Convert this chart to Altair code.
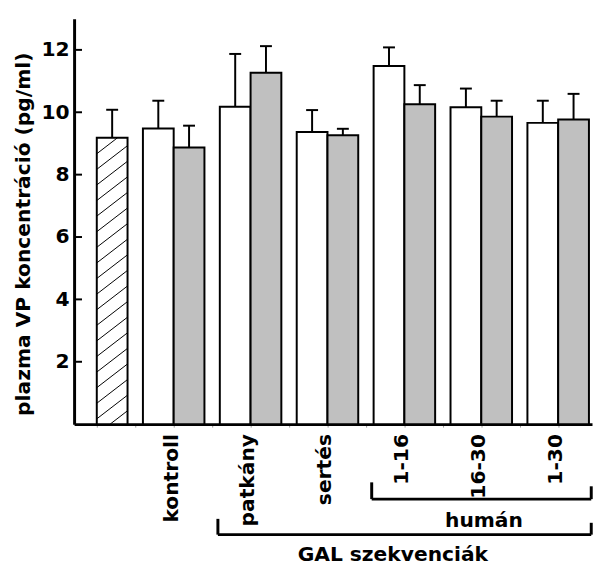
import altair as alt
import pandas as pd
import numpy as np

# ---- data ----
groups = ["kontroll", "patkány", "sertés", "1-16", "16-30", "1-30"]
white_vals = [9.48, 10.18, 9.37, 11.48, 10.16, 9.66]
white_err = [0.89, 1.69, 0.70, 0.60, 0.60, 0.71]
grey_vals = [8.87, 11.27, 9.26, 10.26, 9.86, 9.77]
grey_err = [0.70, 0.85, 0.21, 0.61, 0.51, 0.82]
base_val = 9.18
base_err = 0.90
y_ticks = [2, 4, 6, 8, 10, 12]
brackets = [("humán", 3, 5), ("GAL szekvenciák", 1, 5)]  # label, first group idx, last group idx

FONT = "DejaVu Sans"
FS = 20.5
BW = 0.8  # bar width in x units
W, H = 525, 411
TOTAL_H = 562

# ---- tables ----
centers = [2.0 * (i + 1) for i in range(len(groups))]
rows = [dict(x0=0.0, x1=BW, val=base_val, err=base_val + base_err, fill="white")]
for c, wv, we, gv, ge in zip(centers, white_vals, white_err, grey_vals, grey_err):
    rows.append(dict(x0=c - BW, x1=c, val=wv, err=wv + we, fill="white"))
    rows.append(dict(x0=c, x1=c + BW, val=gv, err=gv + ge, fill="#c0c0c0"))
bars_df = pd.DataFrame(rows)
bars_df["y0"] = 0.0
bars_df["xc"] = (bars_df.x0 + bars_df.x1) / 2
bars_df["cl"] = bars_df.xc - 0.155
bars_df["cr"] = bars_df.xc + 0.155

# hatch lines inside the first bar
rise, step = 0.76, 0.5
hatch = []
a = -0.33
while a < base_val:
    xs, ys, xe, ye = 0.0, a, BW, a + rise
    if ys < 0:
        xs = BW * (-a) / rise
        ys = 0.0
    if ye > base_val:
        xe = BW * (base_val - a) / rise
        ye = base_val
    if xe > xs:
        hatch.append(dict(hx=xs, hy=ys, hx2=xe, hy2=ye))
    a += step
hatch_df = pd.DataFrame(hatch)

labels_df = pd.DataFrame(dict(name=groups, x=[c + 0.1 for c in centers]))
ticks_df = pd.DataFrame(dict(t=y_ticks))

x_scale = alt.Scale(domain=[-0.59, 12.88], nice=False, zero=False)
y_scale = alt.Scale(domain=[0, 13], nice=False, zero=False)

bars = alt.Chart(bars_df).mark_rect(stroke="black", strokeWidth=2).encode(
    x=alt.X("x0:Q", scale=x_scale,
            axis=alt.Axis(values=list(range(13)), labels=False, ticks=True,
                          tickColor="#999999", tickSize=3, tickWidth=1,
                          domainColor="black", domainWidth=3, grid=False, title=None)),
    x2="x1:Q",
    y=alt.Y("y0:Q", scale=y_scale,
            axis=alt.Axis(values=y_ticks, ticks=False, grid=False,
                          domainColor="black", domainWidth=3,
                          labelFont=FONT, labelFontSize=FS, labelFontWeight="bold",
                          labelColor="black", labelPadding=5,
                          title="plazma VP koncentráció (pg/ml)",
                          titleFont=FONT, titleFontSize=FS, titleFontWeight="bold",
                          titleColor="black", titleAngle=270, titleAlign="center",
                          titleBaseline="middle", titleX=-51, titleY=218)),
    y2="val:Q",
    fill=alt.Color("fill:N", scale=None),
)

hatch_layer = alt.Chart(hatch_df).mark_rule(color="black", strokeWidth=1).encode(
    x=alt.X("hx:Q", scale=x_scale), x2="hx2:Q",
    y=alt.Y("hy:Q", scale=y_scale), y2="hy2:Q",
)

err_stem = alt.Chart(bars_df).mark_rule(color="black", strokeWidth=2).encode(
    x=alt.X("xc:Q", scale=x_scale), y=alt.Y("val:Q", scale=y_scale), y2="err:Q",
)
err_cap = alt.Chart(bars_df).mark_rule(color="black", strokeWidth=2).encode(
    x=alt.X("cl:Q", scale=x_scale), x2="cr:Q", y=alt.Y("err:Q", scale=y_scale),
)

yticks = alt.Chart(ticks_df).mark_rule(color="black", strokeWidth=2).encode(
    x=alt.value(0), x2=alt.value(8), y=alt.Y("t:Q", scale=y_scale),
)

cat_labels = alt.Chart(labels_df).mark_text(
    angle=270, align="right", baseline="alphabetic",
    font=FONT, fontSize=FS, fontWeight="bold", color="black",
).encode(x=alt.X("x:Q", scale=x_scale), y=alt.value(421), text="name:N")

layers = [bars, hatch_layer, err_stem, err_cap, yticks, cat_labels]

bracket_y = [(470, 487, 515), (507, 523, 550)]
bracket_text_x = [10.07, 7.7]
for (name, gi, gj), (ytop, yline, ytext), xm in zip(brackets, bracket_y, bracket_text_x):
    left = centers[gi] - 0.85
    right = 12.86
    bdf = pd.DataFrame(dict(a=[left], b=[right], xm=[xm]))
    layers.append(alt.Chart(bdf).mark_rule(color="black", strokeWidth=3).encode(
        x=alt.X("a:Q", scale=x_scale), x2="b:Q", y=alt.value(yline)))
    layers.append(alt.Chart(bdf).mark_rule(color="black", strokeWidth=3).encode(
        x=alt.X("a:Q", scale=x_scale), y=alt.value(ytop), y2=alt.value(yline)))
    layers.append(alt.Chart(bdf).mark_rule(color="black", strokeWidth=3).encode(
        x=alt.X("b:Q", scale=x_scale), y=alt.value(ytop + 4), y2=alt.value(yline)))
    layers.append(alt.Chart(bdf).mark_text(
        font=FONT, fontSize=FS, fontWeight="bold", color="black",
        align="center", baseline="alphabetic", text=name,
    ).encode(x=alt.X("xm:Q", scale=x_scale), y=alt.value(ytext)))

chart = alt.layer(*layers).properties(
    width=W, height=H,
    autosize=alt.AutoSizeParams(type="none"),
    padding={"left": 67, "top": 7, "right": 1, "bottom": TOTAL_H - 7 - H},
    background="white",
).configure_view(stroke=None)

chart.save("out.html", embed_options={"renderer": "svg", "actions": False})
